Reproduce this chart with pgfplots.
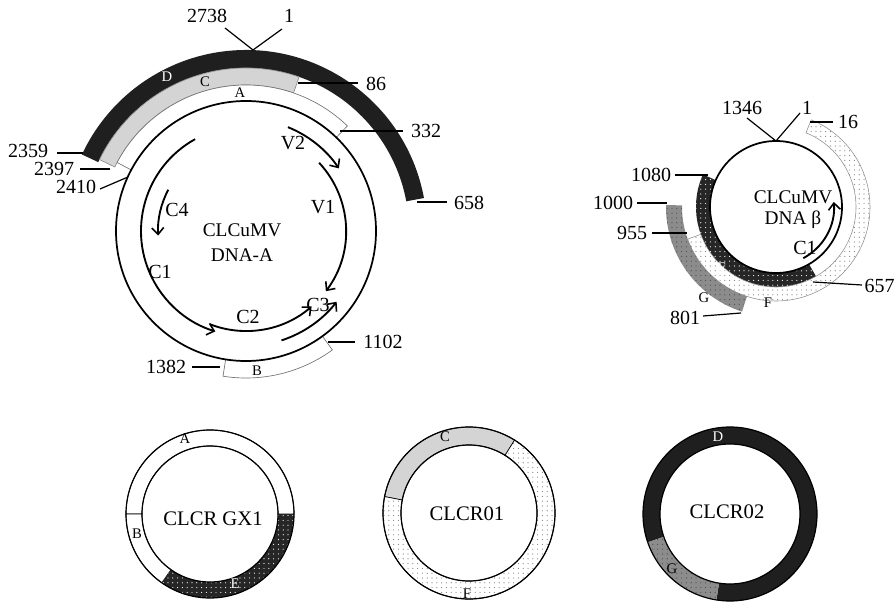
\documentclass[border=0pt]{standalone}
\usepackage{fontspec}
\setmainfont{Liberation Serif}
\usepackage{pgfplots}
\pgfplotsset{compat=1.18}
\usetikzlibrary{arrows.meta,patterns}
\pgfdeclarepatternformonly{sdots}{\pgfqpoint{-1pt}{-1pt}}{\pgfqpoint{1pt}{1pt}}{\pgfqpoint{3.6pt}{3.6pt}}{\pgfpathcircle{\pgfpointorigin}{0.45pt}\pgfusepath{fill}}
% annular band: cx, cy, r_in, r_out, angle1, angle2, style
\newcommand{\band}[7]{\path[#7] ([shift={(#5:{#4*0.75pt})}]axis cs:#1,#2) arc[start angle=#5,end angle=#6,radius={#4*0.75pt}] -- ([shift={(#6:{#3*0.75pt})}]axis cs:#1,#2) arc[start angle=#6,end angle=#5,radius={#3*0.75pt}] -- cycle;}
% gene arc: cx, cy, r, angle1, angle2, style
\newcommand{\garc}[6]{\draw[#6] ([shift={(#4:{#3*0.75pt})}]axis cs:#1,#2) arc[start angle=#4,end angle=#5,radius={#3*0.75pt}];}
\newcommand{\ring}[4]{\draw[#4] (axis cs:#1,#2) circle[radius={#3*0.75pt}];}
\tikzset{
  Dst/.style={fill=black!88},
  Cst/.style={fill=black!17, draw=black!45, line width=0.5pt},
  Ast/.style={fill=white, draw=black!55, line width=0.5pt},
  Est/.style={fill=black!85, postaction={pattern=sdots, pattern color=white}},
  Fst/.style={fill=white, draw=black!45, line width=0.4pt, postaction={pattern=sdots, pattern color=black!50}},
  Gst/.style={fill=black!45, postaction={pattern=sdots, pattern color=black!70}},
  gene/.style={line width=1.4pt, -{Straight Barb[length=5pt,width=9pt,line width=1.2pt]}},
  lab/.style={font=\fontsize{15}{17}\selectfont, inner sep=0pt},
  mid/.style={font=\fontsize{14.5}{17}\selectfont, inner sep=0pt},
  big/.style={font=\fontsize{15.5}{18}\selectfont, inner sep=0pt},
  let/.style={font=\fontsize{11}{13}\selectfont, inner sep=0pt},
  ld/.style={black, solid, line width=0.9pt},
}
\begin{document}
\begin{tikzpicture}
\begin{axis}[x=0.75pt, y=0.75pt, y dir=reverse, xmin=0, xmax=896, ymin=0, ymax=602,
  hide axis, clip=false, scale only axis, no marks]
\coordinate (ll) at (axis cs:0,602);
\coordinate (ur) at (axis cs:896,0);
% ---------------- DNA-A ----------------
\band{246}{231}{163}{181}{10.5}{155}{Dst}
\band{246}{231}{146}{163}{71}{154}{Cst}
\band{246}{231}{130}{146}{46}{152}{Ast}
\band{246}{231}{130}{147}{-99}{-54}{Ast}
\ring{246}{231}{130}{line width=1.3pt}
\garc{246}{231}{112}{68}{34}{gene}
\garc{246}{231}{100}{43}{-37}{gene}
\garc{246}{231}{115}{-72}{-38}{gene}
\garc{246}{231}{100}{-111}{-49}{gene}
\garc{246}{231}{105}{119}{253}{gene}
\garc{246}{231}{88}{152}{183}{gene}
\node[lab] at (axis cs:293,143) {V2};
\node[lab] at (axis cs:323,207) {V1};
\node[lab] at (axis cs:318,305) {C3};
\node[lab] at (axis cs:248,317) {C2};
\node[lab] at (axis cs:160,272) {C1};
\node[lab] at (axis cs:177,210) {C4};
\node[mid] at (axis cs:242,230) {CLCuMV};
\node[mid] at (axis cs:242,255) {DNA-A};
\node[let, text=white] at (axis cs:167,77) {D};
\node[let] at (axis cs:205,82) {C};
\node[let] at (axis cs:240,93) {A};
\node[let] at (axis cs:257,371) {B};
\addplot[ld] coordinates {(225,28) (253,50) (282,29)};
\addplot[ld] coordinates {(298,83) (358,83)};
\addplot[ld] coordinates {(340,131) (403,131)};
\addplot[ld] coordinates {(417,202) (447,202)};
\addplot[ld] coordinates {(328,342) (355,342)};
\addplot[ld] coordinates {(192,367) (220,367)};
\addplot[ld] coordinates {(57,153) (83,153)};
\addplot[ld] coordinates {(80,169) (110,169)};
\addplot[ld] coordinates {(100,189) (128,177)};
\node[lab] at (axis cs:207,16) {2738};
\node[lab] at (axis cs:289,16) {1};
\node[lab] at (axis cs:376,84) {86};
\node[lab] at (axis cs:426,131) {332};
\node[lab] at (axis cs:469,203) {658};
\node[lab] at (axis cs:383,342) {1102};
\node[lab] at (axis cs:166,367) {1382};
\node[lab] at (axis cs:28,151) {2359};
\node[lab] at (axis cs:54,169) {2397};
\node[lab] at (axis cs:76,187) {2410};
% ---------------- DNA beta ----------------
\band{776}{207}{66}{80}{156}{300}{Est}
\band{776}{207}{80}{94}{-160}{68}{Fst}
\band{776}{207}{94}{110}{179}{252}{Gst}
\ring{776}{207}{66}{line width=1.3pt}
\garc{776}{207}{58}{-62}{5}{gene}
\node[mid] at (axis cs:793,197) {CLCuMV};
\node[mid] at (axis cs:793,220) {DNA β};
\node[lab] at (axis cs:805,248) {C1};
\node[let, text=white] at (axis cs:722,268) {E};
\node[let] at (axis cs:768,303) {F};
\node[let] at (axis cs:704,298) {G};
\addplot[ld] coordinates {(747,118) (776,141) (800,113)};
\addplot[ld] coordinates {(810,122) (833,122)};
\addplot[ld] coordinates {(675,175) (708,175)};
\addplot[ld] coordinates {(637,203) (667,203)};
\addplot[ld] coordinates {(652,233) (687,233)};
\addplot[ld] coordinates {(703,316) (741,313)};
\addplot[ld] coordinates {(813,282) (862,285)};
\node[lab] at (axis cs:742,108) {1346};
\node[lab] at (axis cs:807,108) {1};
\node[lab] at (axis cs:848,122) {16};
\node[lab] at (axis cs:651,175) {1080};
\node[lab] at (axis cs:613,203) {1000};
\node[lab] at (axis cs:632,233) {955};
\node[lab] at (axis cs:685,318) {801};
\node[lab, anchor=east] at (axis cs:895,286) {657};
% ---------------- CLCR GX1 ----------------
\band{210}{514}{68}{84}{0}{180}{fill=white, draw=black, line width=0.5pt}
\band{210}{514}{68}{84}{180}{235}{fill=white, draw=black, line width=0.5pt}
\band{210}{514}{68}{84}{235}{360}{Est}
\ring{210}{514}{84}{line width=0.9pt}
\ring{210}{514}{68}{line width=0.9pt}
\node[let] at (axis cs:185,439) {A};
\node[let] at (axis cs:137,534) {B};
\node[let, text=white] at (axis cs:235,584) {E};
\node[big] at (axis cs:213,519) {CLCR GX1};
% ---------------- CLCR01 ----------------
\band{469}{513}{68}{86}{58}{169}{fill=black!17, draw=black, line width=0.5pt}
\band{469}{513}{68}{86}{169}{418}{fill=white, draw=black, line width=0.5pt, postaction={pattern=sdots, pattern color=black!50}}
\ring{469}{513}{86}{line width=0.9pt}
\ring{469}{513}{68}{line width=0.9pt}
\node[let] at (axis cs:445,437) {C};
\node[let] at (axis cs:467,594) {F};
\node[big] at (axis cs:467,514) {CLCR01};
% ---------------- CLCR02 ----------------
\band{730}{514}{70}{87}{-99}{199}{Dst}
\band{730}{514}{70}{87}{199}{261}{Gst}
\ring{730}{514}{87}{line width=0.9pt}
\ring{730}{514}{70}{line width=0.9pt}
\node[let, text=white] at (axis cs:718,437) {D};
\node[let] at (axis cs:672,569) {G};
\node[big] at (axis cs:727,512) {CLCR02};
\end{axis}
\pgfresetboundingbox
\useasboundingbox (ll) rectangle (ur);
\end{tikzpicture}
\end{document}
